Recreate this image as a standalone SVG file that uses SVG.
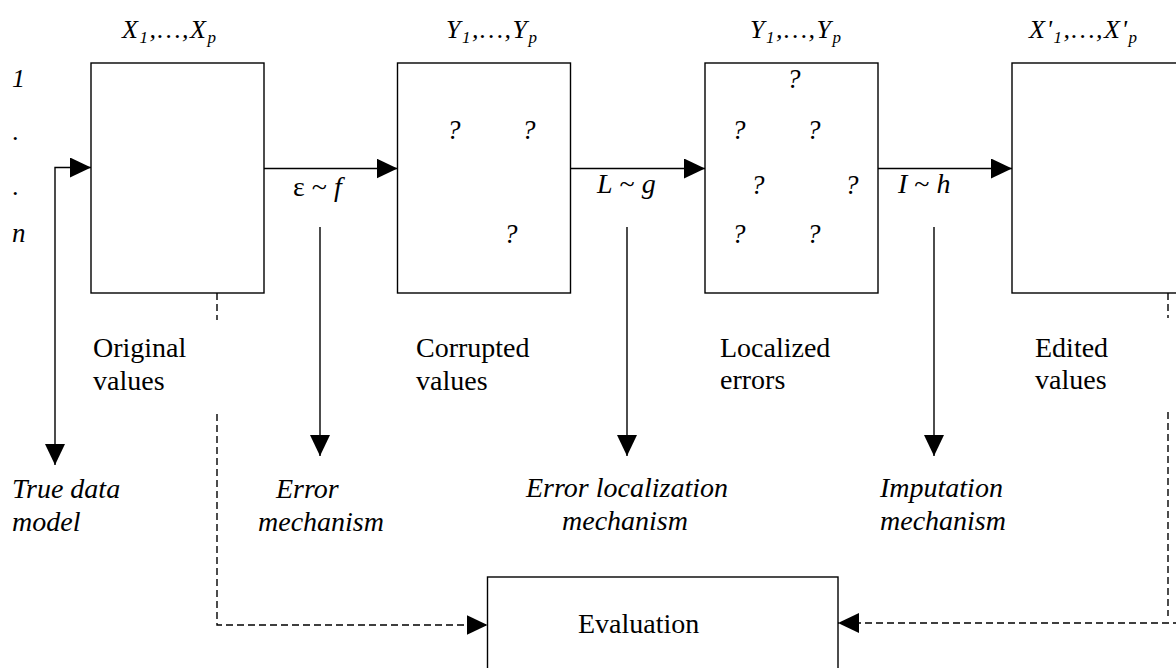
<svg xmlns="http://www.w3.org/2000/svg" width="1176" height="668" viewBox="0 0 1176 668" font-family="'Liberation Serif', 'DejaVu Serif', serif">
<defs>
<marker id="ah" viewBox="0 0 21 20" refX="21" refY="10" markerWidth="21" markerHeight="20" markerUnits="userSpaceOnUse" orient="auto-start-reverse">
<path d="M0,0 L21,10 L0,20 Z" fill="#000"/>
</marker>
<style>
.box{fill:#fff;stroke:#000;stroke-width:1.4}
.ln{fill:none;stroke:#000;stroke-width:1.4}
.dash{fill:none;stroke:#000;stroke-width:1.4;stroke-dasharray:7 4}
text{font-family:'Liberation Serif','DejaVu Serif',serif;fill:#000}
.it{font-style:italic}
.lab{font-size:28px}
.hdr{font-size:26px;font-style:italic;letter-spacing:1.5px}
.sub{font-size:17px}
.q{font-size:27px;font-style:italic}
</style>
</defs>
<rect width="1176" height="668" fill="#fff"/>

<g id="rowlabels">
<text class="it" x="12" y="87" font-size="26">1</text>
<text x="12" y="140" font-size="26">.</text>
<text x="12" y="195" font-size="26">.</text>
<text class="it" x="12" y="242" font-size="27">n</text>
</g>

<g id="original">
<text class="hdr" x="122" y="38">X<tspan class="sub" dy="5">1</tspan><tspan dy="-5">,…,X</tspan><tspan class="sub" dy="5">p</tspan></text>
<rect class="box" x="91" y="63" width="173" height="230"/>
<text class="lab" x="93" y="357">Original</text>
<text class="lab" x="93" y="390">values</text>
</g>

<g id="corrupted">
<text class="hdr" x="446" y="38">Y<tspan class="sub" dy="5">1</tspan><tspan dy="-5">,…,Y</tspan><tspan class="sub" dy="5">p</tspan></text>
<rect class="box" x="397.5" y="63" width="173" height="230"/>
<text class="q" x="447" y="139">?</text>
<text class="q" x="522" y="139">?</text>
<text class="q" x="504" y="243">?</text>
<text class="lab" x="416" y="357">Corrupted</text>
<text class="lab" x="416" y="390">values</text>
</g>

<g id="localized">
<text class="hdr" x="750" y="38">Y<tspan class="sub" dy="5">1</tspan><tspan dy="-5">,…,Y</tspan><tspan class="sub" dy="5">p</tspan></text>
<rect class="box" x="705" y="63" width="173" height="230"/>
<text class="q" x="787" y="88">?</text>
<text class="q" x="732" y="139">?</text>
<text class="q" x="807" y="139">?</text>
<text class="q" x="751" y="194">?</text>
<text class="q" x="845" y="194">?</text>
<text class="q" x="732" y="243">?</text>
<text class="q" x="807" y="243">?</text>
<text class="lab" x="720" y="357">Localized</text>
<text class="lab" x="720" y="389">errors</text>
</g>

<g id="edited">
<text class="hdr" x="1029" y="38">X'<tspan class="sub" dy="5">1</tspan><tspan dy="-5">,…,X'</tspan><tspan class="sub" dy="5">p</tspan></text>
<rect class="box" x="1012" y="63" width="200" height="230"/>
<text class="lab" x="1035" y="357">Edited</text>
<text class="lab" x="1035" y="389">values</text>
</g>

<g id="evaluation">
<rect class="box" x="487.5" y="577" width="350.5" height="110"/>
<text class="lab" x="578" y="633">Evaluation</text>
</g>

<g id="mechanisms">
<text class="lab it" x="12" y="498">True data</text>
<text class="lab it" x="12" y="531">model</text>
<text class="lab it" x="276" y="498">Error</text>
<text class="lab it" x="258" y="531">mechanism</text>
<text class="lab it" x="627" y="497" text-anchor="middle">Error localization</text>
<text class="lab it" x="625" y="530" text-anchor="middle">mechanism</text>
<text class="lab it" x="880" y="497">Imputation</text>
<text class="lab it" x="880" y="530">mechanism</text>
</g>

<g id="connectors">
<path class="ln" d="M55,465 V167.5 H91" marker-start="url(#ah)" marker-end="url(#ah)"/>
<path class="ln" d="M264,168.5 H397.5" marker-end="url(#ah)"/>
<path class="ln" d="M570.5,168.5 H705" marker-end="url(#ah)"/>
<path class="ln" d="M878,168.5 H1012" marker-end="url(#ah)"/>
<text class="lab" x="293" y="196">ε ~ <tspan class="it">f</tspan></text>
<text class="lab" x="597" y="193"><tspan class="it">L</tspan> ~ <tspan class="it">g</tspan></text>
<text class="lab" x="898" y="193"><tspan class="it">I</tspan> ~ <tspan class="it">h</tspan></text>
<path class="ln" d="M320,227 V456" marker-end="url(#ah)"/>
<path class="ln" d="M627,227 V456" marker-end="url(#ah)"/>
<path class="ln" d="M934,227 V456" marker-end="url(#ah)"/>
<path class="dash" d="M217,293 V320"/>
<path class="dash" d="M217,414 V625 H487.5" marker-end="url(#ah)"/>
<path class="dash" d="M1168,293 V318"/>
<path class="dash" d="M1168,412 V616"/>
<path class="dash" d="M1180,623 H838" marker-end="url(#ah)"/>
</g>
</svg>
